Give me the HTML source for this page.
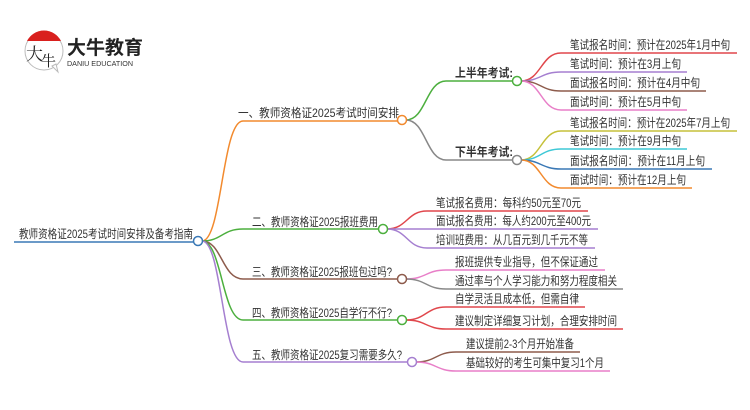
<!DOCTYPE html>
<html><head><meta charset="utf-8"><style>
html,body{margin:0;padding:0;background:#fff;}
svg{display:block;}
text{font-family:"Liberation Sans","Noto Sans CJK SC",sans-serif;fill:#333;font-size:12px;}
</style></head><body>
<svg width="750" height="410" viewBox="0 0 750 410" xmlns="http://www.w3.org/2000/svg">
<!-- logo -->
<circle cx="44" cy="51" r="19" fill="#fff" stroke="#bbb" stroke-width="1"/>
<path d="M27,41 A19,19 0 0 1 61,41 Z" fill="#d9201e"/>
<path d="M52,66 L58,72 L56,64 Z" fill="#fff" stroke="#bbb" stroke-width="1"/>
<text x="26" y="60" style="font-size:17px;fill:#222;font-family:'Noto Serif CJK SC',serif">大</text>
<text x="41" y="66" style="font-size:15px;fill:#222;font-family:'Noto Serif CJK SC',serif">牛</text>
<text x="67" y="54" style="font-size:19px;font-weight:bold;fill:#222;">大牛教育</text>
<text x="67" y="66" style="font-size:7.5px;fill:#333;" textLength="66" lengthAdjust="spacingAndGlyphs">DANIU EDUCATION</text>

<g fill="none" stroke-width="1.5">
<path d="M14,242 H194" stroke="#3a78b5"/>
<path d="M202,241 C222,241 222,121 243,121 H398" stroke="#f28a2e"/>
<path d="M202,241 C222,241 222,229 243,229 H379" stroke="#4caf3e"/>
<path d="M202,241 C222,241 222,279 243,279 H398" stroke="#8d5b4c"/>
<path d="M202,241 C222,241 222,320 243,320 H398" stroke="#4caf3e"/>
<path d="M202,241 C222,241 222,362 243,362 H408" stroke="#a57fd0"/>
<path d="M406,120 C426,120 426,81 446,81 H513" stroke="#4caf3e"/>
<path d="M406,120 C426,120 426,160 446,160 H513" stroke="#888"/>
<path d="M521,81 C541,81 541,53 561,53 H737" stroke="#e0474c"/>
<path d="M521,81 C541,81 541,72 561,72 H687" stroke="#a57fd0"/>
<path d="M521,81 C541,81 541,91 561,91 H706" stroke="#8d5b4c"/>
<path d="M521,81 C541,81 541,110 561,110 H687" stroke="#e87fc8"/>
<path d="M521,160 C541,160 541,131 561,131 H737" stroke="#c5c13a"/>
<path d="M521,160 C541,160 541,149 561,149 H687" stroke="#3ec8d6"/>
<path d="M521,160 C541,160 541,169 561,169 H712" stroke="#3a78b5"/>
<path d="M521,160 C541,160 541,188 561,188 H692" stroke="#f28a2e"/>
<path d="M387,229 C407,229 407,211 427,211 H588" stroke="#e0474c"/>
<path d="M387,229 C407,229 407,229 427,229 H598" stroke="#a57fd0"/>
<path d="M387,229 C407,229 407,248 427,248 H595" stroke="#a57fd0"/>
<path d="M406,279 C426,279 426,270 446,270 H605" stroke="#e87fc8"/>
<path d="M406,279 C426,279 426,289 446,289 H623" stroke="#888"/>
<path d="M406,320 C426,320 426,307 446,307 H585" stroke="#e0474c"/>
<path d="M406,320 C426,320 426,329 446,329 H623" stroke="#e0474c"/>
<path d="M416,362 C436,362 436,352 456,352 H580" stroke="#8d5b4c"/>
<path d="M416,362 C436,362 436,371 456,371 H610" stroke="#e87fc8"/>
</g>
<g fill="#fff" stroke-width="1.5">
<circle cx="198" cy="241" r="4.5" stroke="#3a78b5"/>
<circle cx="402" cy="120" r="4.5" stroke="#f28a2e"/>
<circle cx="383" cy="229" r="4.5" stroke="#4caf3e"/>
<circle cx="402" cy="279" r="4.5" stroke="#8d5b4c"/>
<circle cx="402" cy="320" r="4.5" stroke="#4caf3e"/>
<circle cx="412" cy="362" r="4.5" stroke="#a57fd0"/>
<circle cx="517" cy="81" r="4.5" stroke="#4caf3e"/>
<circle cx="517" cy="160" r="4.5" stroke="#888"/>
</g>
<text x="19" y="238" textLength="174" lengthAdjust="spacingAndGlyphs">教师资格证2025考试时间安排及备考指南</text>
<text x="238" y="117" textLength="161" lengthAdjust="spacingAndGlyphs">一、教师资格证2025考试时间安排</text>
<text x="252" y="226" textLength="126" lengthAdjust="spacingAndGlyphs">二、教师资格证2025报班费用</text>
<text x="252" y="276" textLength="140" lengthAdjust="spacingAndGlyphs">三、教师资格证2025报班包过吗?</text>
<text x="252" y="317" textLength="140" lengthAdjust="spacingAndGlyphs">四、教师资格证2025自学行不行?</text>
<text x="252" y="359" textLength="150" lengthAdjust="spacingAndGlyphs">五、教师资格证2025复习需要多久?</text>
<text x="455" y="77" style="font-weight:bold" textLength="58" lengthAdjust="spacingAndGlyphs">上半年考试:</text>
<text x="455" y="156" style="font-weight:bold" textLength="58" lengthAdjust="spacingAndGlyphs">下半年考试:</text>
<text x="570" y="49" textLength="160" lengthAdjust="spacingAndGlyphs">笔试报名时间：预计在2025年1月中旬</text>
<text x="570" y="68" textLength="111" lengthAdjust="spacingAndGlyphs">笔试时间：预计在3月上旬</text>
<text x="570" y="87" textLength="130" lengthAdjust="spacingAndGlyphs">面试报名时间：预计在4月中旬</text>
<text x="570" y="106" textLength="111" lengthAdjust="spacingAndGlyphs">面试时间：预计在5月中旬</text>
<text x="570" y="127" textLength="160" lengthAdjust="spacingAndGlyphs">笔试报名时间：预计在2025年7月上旬</text>
<text x="570" y="145" textLength="111" lengthAdjust="spacingAndGlyphs">笔试时间：预计在9月中旬</text>
<text x="570" y="165" textLength="135" lengthAdjust="spacingAndGlyphs">面试报名时间：预计在11月上旬</text>
<text x="570" y="184" textLength="116" lengthAdjust="spacingAndGlyphs">面试时间：预计在12月上旬</text>
<text x="436" y="207" textLength="145" lengthAdjust="spacingAndGlyphs">笔试报名费用：每科约50元至70元</text>
<text x="436" y="225" textLength="155" lengthAdjust="spacingAndGlyphs">面试报名费用：每人约200元至400元</text>
<text x="436" y="244" textLength="152" lengthAdjust="spacingAndGlyphs">培训班费用：从几百元到几千元不等</text>
<text x="455" y="266" textLength="143" lengthAdjust="spacingAndGlyphs">报班提供专业指导，但不保证通过</text>
<text x="455" y="285" textLength="162" lengthAdjust="spacingAndGlyphs">通过率与个人学习能力和努力程度相关</text>
<text x="455" y="303" textLength="124" lengthAdjust="spacingAndGlyphs">自学灵活且成本低，但需自律</text>
<text x="455" y="325" textLength="162" lengthAdjust="spacingAndGlyphs">建议制定详细复习计划，合理安排时间</text>
<text x="466" y="348" textLength="108" lengthAdjust="spacingAndGlyphs">建议提前2-3个月开始准备</text>
<text x="466" y="367" textLength="138" lengthAdjust="spacingAndGlyphs">基础较好的考生可集中复习1个月</text>
</svg>
</body></html>
